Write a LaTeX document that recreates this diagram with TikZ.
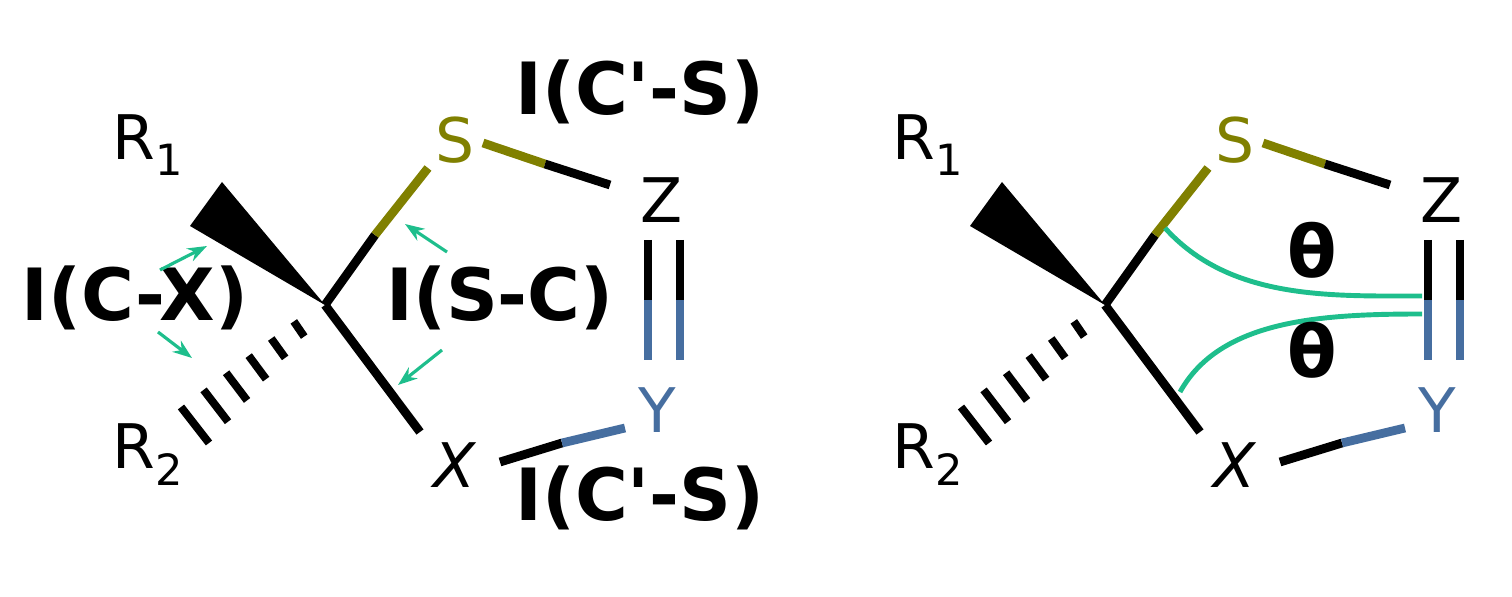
\documentclass[tikz,border=0pt]{standalone}
\usepackage{fontspec}
\setmainfont{DejaVu Sans}
\usetikzlibrary{arrows.meta,calc}
\definecolor{olv}{RGB}{128,128,0}
\definecolor{blu}{RGB}{70,110,160}
\definecolor{grn}{RGB}{30,190,140}
\begin{document}
\begin{tikzpicture}[x=0.02cm,y=-0.02cm,
  bond/.style={line width=5pt},
  atom/.style={font=\fontsize{35}{38}\selectfont,inner sep=0pt},
  lab/.style={font=\fontsize{41}{44}\selectfont\bfseries,inner sep=0pt},
  garr/.style={grn,line width=1.8pt,-{Stealth[length=11pt,width=8pt]}},
  gcur/.style={grn,line width=2.8pt}]
\useasboundingbox (0,0) rectangle (1512,597);
\foreach \dx/\nm in {0/L,780/R}{
\begin{scope}[xshift=\dx*0.02cm]
\coordinate (C\nm) at (325,305);
\fill (C\nm) -- (190,226) -- (222,182) -- cycle;
\foreach \t in {0.2,0.36,0.52,0.68,0.84,1.0}{
  \draw[line width=4.5pt] ($(325,305)!\t!(195,425)+(-3-11*\t,-5-13*\t)$) -- ($(325,305)!\t!(195,425)+(3+11*\t,5+13*\t)$);
}
\draw[bond] (C\nm) -- (375,235);
\draw[bond,olv] (375,235) -- (428,168);
\draw[bond,olv] (483,143) -- (545,164);
\draw[bond] (545,164) -- (610,185);
\draw[bond] (648,240) -- (648,300);
\draw[bond] (680,240) -- (680,300);
\draw[bond,blu] (648,300) -- (648,360);
\draw[bond,blu] (680,300) -- (680,360);
\draw[bond] (C\nm) -- (420,432);
\draw[bond] (500,462) -- (562,443);
\draw[bond,blu] (562,443) -- (625,428);
\node[atom] (R1\nm) at (148,145) {R$_{\mathrm{1}}$};
\node[atom] (R2\nm) at (148,455) {R$_{\mathrm{2}}$};
\node[atom,text=olv] (S\nm) at (455,140) {S};
\node[atom] (Z\nm) at (662,200) {Z};
\node[atom,text=blu] (Y\nm) at (657,410) {Y};
\node[atom] (X\nm) at (455,465) {\itshape X};
\end{scope}}
\node[lab] (l1) at (640,92) {I(C\textquotesingle-S)};
\node[lab] (l2) at (640,498) {I(C\textquotesingle-S)};
\node[lab] (l3) at (135,298) {I(C-X)};
\node[lab] (l4) at (500,298) {I(S-C)};
\coordinate (a1) at (160,270); \coordinate (b1) at (207,246);
\coordinate (a2) at (158,332); \coordinate (b2) at (192,358);
\coordinate (a3) at (447,252); \coordinate (b3) at (405,224);
\coordinate (a4) at (442,350); \coordinate (b4) at (398,385);
\draw[garr] (a1) -- (b1); \draw[garr] (a2) -- (b2);
\draw[garr] (a3) -- (b3); \draw[garr] (a4) -- (b4);
\coordinate (g1) at (1165,228); \coordinate (h1) at (1422,296);
\coordinate (g2) at (1180,392); \coordinate (h2) at (1422,314);
\draw[gcur] (g1) .. controls (1230,300) and (1330,296) .. (h1);
\draw[gcur] (g2) .. controls (1220,320) and (1320,314) .. (h2);
\node[lab] (t1) at (1312,250) {θ};
\node[lab] (t2) at (1312,350) {θ};
\end{tikzpicture}
\end{document}
